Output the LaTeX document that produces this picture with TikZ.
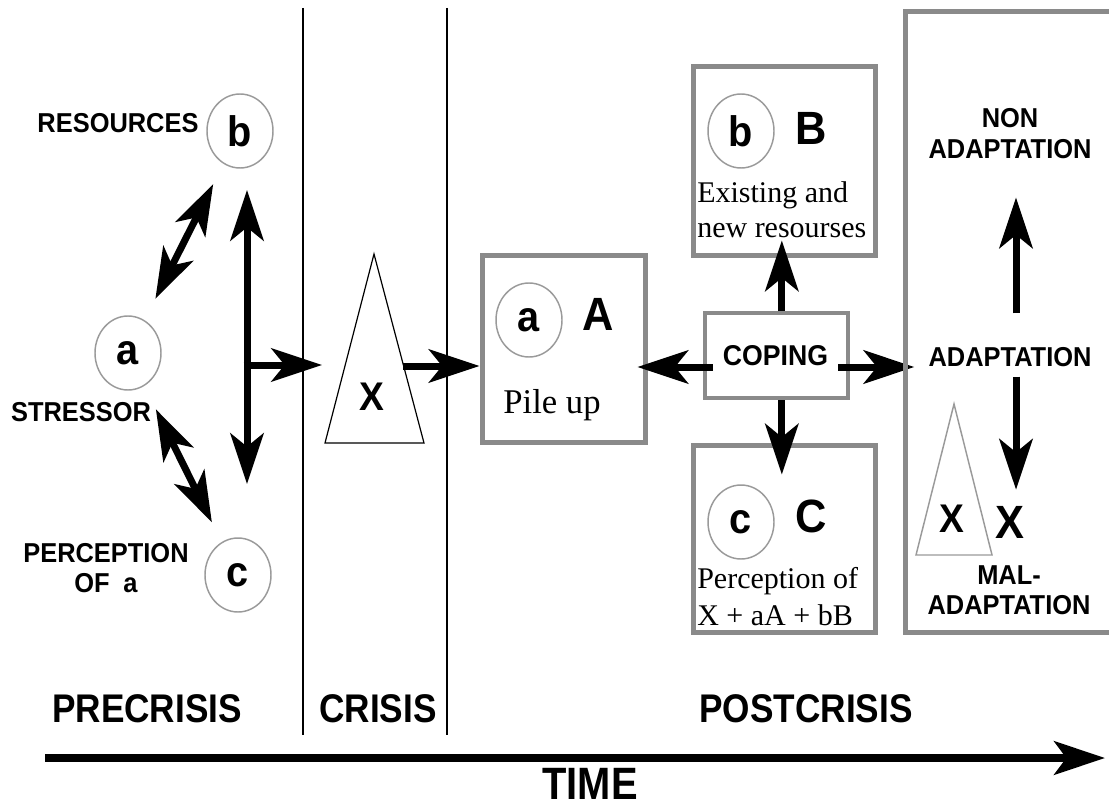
\documentclass[tikz,border=0pt]{standalone}
\usepackage{fontspec}
\setmainfont{Liberation Serif}
\newfontfamily\hv{Liberation Sans}[FakeStretch=0.93]
\newfontfamily\hvc{Liberation Sans}[FakeStretch=0.88]
\usetikzlibrary{arrows.meta,shapes.geometric}
\definecolor{boxgray}{HTML}{8A8A8A}
\definecolor{circgray}{HTML}{9A9A9A}
\begin{document}
\begin{tikzpicture}[x=0.75pt,y=-0.75pt,
  lab/.style={font=\hv\bfseries\fontsize{20.5}{22}\selectfont, inner sep=0pt, anchor=base},
  big/.style={font=\hvc\bfseries\fontsize{30}{32}\selectfont, inner sep=0pt, anchor=base},
  circ/.style={ellipse, draw=circgray, line width=1.1pt, minimum width=49.5pt, minimum height=55.5pt, inner sep=0pt, font=\hv\bfseries\fontsize{32}{34}\selectfont},
  capl/.style={font=\hv\bfseries\fontsize{35}{37}\selectfont, inner sep=0pt},
  xl/.style={font=\hv\bfseries\fontsize{30}{32}\selectfont, inner sep=0pt},
  ser/.style={font=\fontsize{22.5}{24}\selectfont, inner sep=0pt, anchor=base west},
  gbox/.style={draw=boxgray, line width=3.75pt, inner sep=0pt},
  tri/.style={draw=black, line width=0.9pt, line join=miter},
  arr/.style={line width=5.25pt, -{Stealth[length=38pt,width=25pt,inset=10pt]}},
  darr/.style={line width=5.25pt, {Stealth[length=38pt,width=25pt,inset=10pt]}-{Stealth[length=38pt,width=25pt,inset=10pt]}},
  divider/.style={line width=0.9pt}
]
\useasboundingbox (0,0) rectangle (1109,809);

% dividers
\coordinate (d1t) at (303,8); \coordinate (d1b) at (303,735);
\coordinate (d2t) at (447,8); \coordinate (d2b) at (447,735);
\draw[divider] (d1t) -- (d1b);
\draw[divider] (d2t) -- (d2b);

% ---- precrisis ----
\node[circ] (cb) at (240,131) {b};
\node[circ] (ca) at (128,353) {a};
\node[circ] (cc) at (238,575) {c};
\node[lab] (res) at (118,133) {RESOURCES};
\node[lab] (str) at (81,421) {STRESSOR};
\node[lab] (per1) at (106,562) {PERCEPTION};
\node[lab] (per2) at (106,592) {OF\enspace a};

\draw[darr, shorten <=17pt, shorten >=18pt] (cb) -- (ca);
\draw[darr, shorten <=19.5pt, shorten >=16.5pt] (ca) -- (cc);
\coordinate (vtop) at (247,190);
\coordinate (vbot) at (247,484);
\coordinate (vmid) at (247,365);
\draw[darr] (vtop) -- (vbot);

% ---- crisis ----
\coordinate (t1) at (374,254);
\coordinate (t2) at (424,443);
\coordinate (t3) at (325,443);
\draw[tri] (t1) -- (t2) -- (t3) -- cycle;
\node[xl] (X1) at (372,397) {X};
\coordinate (triL) at (322,365);
\coordinate (triR) at (403,366);
\draw[arr, shorten <=-2.6pt] (vmid) -- (triL);

% ---- postcrisis ----
\node[gbox, minimum width=122.25pt, minimum height=140.25pt] (boxA) at (563.5,348.5) {};
\node[circ] (cA) at (529,320) {a};
\node[capl] (LA) at (598,314) {A};
\node[ser, anchor=base, font=\fontsize{26}{28}\selectfont] (pile) at (552,413) {Pile up};
\draw[arr] (triR) -- (boxA.west |- triR);

\node[gbox, minimum width=136.5pt, minimum height=141pt] (boxB) at (784,161) {};
\node[circ] (cB) at (741,131) {b};
\node[capl] (LB) at (811,128) {B};
\node[ser] (ex1) at (697,203) {Existing and};
\node[ser] (ex2) at (697,238) {new resourses};

\node[gbox, minimum width=136.5pt, minimum height=140.25pt] (boxC) at (784,538.5) {};
\node[circ] (cC) at (741,522) {c};
\node[capl] (LC) at (811,516) {C};
\node[ser] (pc1) at (697,588) {Perception of};
\node[ser] (pc2) at (697,625) {X + aA + bB};

\node[draw=boxgray, line width=3pt, minimum width=107.25pt, minimum height=63.75pt, inner sep=0pt] (copbox) at (776.5,355.5) {};
\node[lab, font=\hv\bfseries\fontsize{21.5}{23}\selectfont] (cop) at (775.5,365) {COPING};

\coordinate (bigL) at (905,367);
\draw[arr] ([xshift=7.5pt]copbox.west |- bigL) -- ([xshift=-7.5pt]boxA.east |- bigL);
\draw[arr, shorten >=-7pt] ([xshift=-9pt]copbox.east |- bigL) -- (bigL);
\draw[arr, shorten >=-12.75pt] ([xshift=4pt]copbox.north) -- ([xshift=4pt]copbox.north |- boxB.south);
\draw[arr, shorten >=-24pt] ([xshift=4pt]copbox.south) -- ([xshift=4pt]copbox.south |- boxC.north);

% right panel
\draw[draw=boxgray, line width=3.75pt] (1125,12) -| (905,632) -- (1125,632);
\node[lab] (non1) at (1010,128) {NON};
\node[lab] (non2) at (1010,159) {ADAPTATION};
\node[lab] (adap) at (1010,366) {ADAPTATION};
\node[lab] (mal1) at (1009,584) {MAL-};
\node[lab] (mal2) at (1009,614) {ADAPTATION};
\coordinate (s1) at (954,404);
\coordinate (s2) at (992,555);
\coordinate (s3) at (916,555);
\draw[draw=circgray, line width=1.1pt] (s1) -- (s2) -- (s3) -- cycle;
\node[xl] (X2) at (952,519) {X};
\node[capl] (X3) at (1010,522) {X};
\draw[arr, shorten <=25pt, shorten >=28.5pt] ([xshift=4.5pt]adap.north) -- ([xshift=4.5pt]non2.south);
\draw[arr, shorten <=7.5pt, shorten >=12pt] ([xshift=4.5pt]adap.south) -- ([xshift=4.5pt]X3.north);

% bottom
\node[big] (pre) at (147,722) {PRECRISIS};
\node[big] (cri) at (378,722) {CRISIS};
\node[big] (post) at (806,722) {POSTCRISIS};
\node[big, font=\hvc\bfseries\fontsize{34}{36}\selectfont] (time) at (590,799) {TIME};
\coordinate (ta) at (45,758);
\coordinate (tb) at (1105,758);
\draw[line width=6pt, -{Stealth[length=38pt,width=25pt,inset=9pt]}] (ta) -- (tb);
\end{tikzpicture}
\end{document}
